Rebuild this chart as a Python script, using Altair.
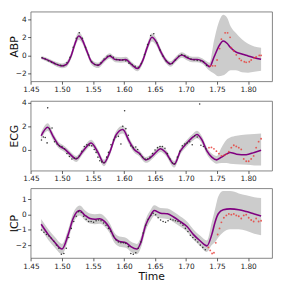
import altair as alt
import pandas as pd

# ---------------- shared axis data ----------------
x_domain = [1.4494, 1.8386]
x_ticks = [1.45, 1.50, 1.55, 1.60, 1.65, 1.70, 1.75, 1.80]

# ---------------- ABP ----------------
abp_t = [1.467, 1.480, 1.490, 1.500, 1.507, 1.515, 1.521, 1.527, 1.533, 1.540, 1.548, 1.558,
         1.568, 1.577, 1.586, 1.595, 1.603, 1.612, 1.622, 1.630, 1.638, 1.645, 1.652, 1.660,
         1.668, 1.675, 1.684, 1.693, 1.702, 1.710, 1.718, 1.726, 1.733, 1.738, 1.745, 1.752,
         1.760, 1.766, 1.772, 1.780, 1.790, 1.800, 1.810, 1.821]
abp_mean = [-0.24, -0.60, -0.95, -1.15, -1.00, 0.00, 1.30, 2.15, 1.70, 0.50, -0.75, -1.10,
            -0.50, -0.05, -0.45, -0.50, -0.45, -1.00, -1.45, -0.60, 1.00, 2.00, 1.50, 0.30,
            -0.60, -0.95, -0.40, 0.05, -0.25, -0.45, -0.45, -0.62, -1.00, -1.25, -0.20, 0.90,
            1.60, 1.35, 0.85, 0.40, 0.15, -0.05, -0.25, -0.42]
abp_lo = [-0.42, -0.82, -1.20, -1.42, -1.30, -0.35, 0.90, 1.70, 1.30, 0.15, -1.05, -1.40,
          -0.80, -0.35, -0.75, -0.80, -0.75, -1.30, -1.75, -0.95, 0.60, 1.55, 1.10, -0.05,
          -0.90, -1.25, -0.70, -0.25, -0.55, -0.75, -0.75, -0.92, -1.35, -1.70, -2.00, -2.30,
          -2.20, -1.90, -1.65, -1.65, -1.85, -1.90, -1.80, -1.70]
abp_hi = [-0.06, -0.38, -0.70, -0.88, -0.70, 0.35, 1.70, 2.60, 2.10, 0.85, -0.45, -0.80,
          -0.20, 0.25, -0.15, -0.20, -0.15, -0.70, -1.15, -0.25, 1.40, 2.45, 1.90, 0.65,
          -0.30, -0.65, -0.10, 0.35, 0.05, -0.15, -0.15, -0.32, -0.65, -0.80, 1.60, 3.50,
          4.50, 4.20, 3.20, 2.50, 1.80, 1.30, 1.00, 0.85]
abp_train_t = [1.468, 1.473, 1.478, 1.483, 1.488, 1.493, 1.498, 1.503, 1.508, 1.513, 1.518,
               1.523, 1.528, 1.533, 1.538, 1.543, 1.548, 1.553, 1.558, 1.563, 1.568, 1.573,
               1.578, 1.583, 1.588, 1.593, 1.598, 1.603, 1.608, 1.613, 1.618, 1.623, 1.628,
               1.633, 1.638, 1.643, 1.648, 1.653, 1.658, 1.663, 1.668, 1.673, 1.678, 1.683,
               1.688, 1.693, 1.698, 1.703, 1.708, 1.713, 1.718, 1.723, 1.728, 1.733]
abp_train_v = [-0.25, -0.40, -0.60, -0.75, -0.90, -1.00, -1.10, -1.15, -0.80, -0.20, 0.90,
               1.90, 2.50, 1.90, 0.90, 0.05, -0.70, -1.00, -1.05, -0.80, -0.40, -0.10,
               0.00, -0.20, -0.45, -0.50, -0.50, -0.60, -0.85, -1.00, -1.20, -1.30, -0.90,
               0.10, 1.20, 2.20, 2.40, 1.40, 0.60, -0.10, -0.60, -0.90, -0.90, -0.50,
               -0.10, 0.10, 0.00, -0.20, -0.40, -0.50, -0.55, -0.60, -0.70, -1.10]
abp_test_t = [1.739, 1.743, 1.747, 1.750, 1.754, 1.757, 1.763, 1.767, 1.771, 1.773, 1.777,
              1.781, 1.786, 1.789, 1.794, 1.797, 1.802, 1.805, 1.810, 1.813, 1.818, 1.821]
abp_test_v = [-1.15, -1.15, -1.15, -0.50, 0.76, 1.80, 2.50, 2.50, 2.00, 0.87, 0.50,
              0.07, -0.35, -0.55, -0.70, -0.76, -0.70, -0.50, -0.28, -0.17, 0.00, 0.00]

# ---------------- ECG ----------------
ecg_t = [1.4665, 1.477, 1.486, 1.494, 1.505, 1.513, 1.523, 1.534, 1.547, 1.558, 1.5676, 1.577,
         1.587, 1.598, 1.6085, 1.6165, 1.6245, 1.635, 1.640, 1.6485, 1.659, 1.667, 1.681, 1.691,
         1.7015, 1.712, 1.7176, 1.7256, 1.7336, 1.7415, 1.7495, 1.757, 1.765, 1.771, 1.7814,
         1.797, 1.810, 1.821]
ecg_mean = [1.20, 1.92, 1.12, 0.45, 0.05, -0.35, -0.75, -0.08, 0.59, -0.20, -1.09, -0.20,
            1.25, 1.73, 0.72, 0.05, -0.27, -0.83, -0.75, -0.35, 0.10, -0.20, -1.20, -0.08,
            0.59, 1.12, 1.30, 0.85, -0.08, -0.60, -0.83, -0.60, -0.35, -0.21, -0.35,
            -0.40, -0.20, -0.03]
ecg_lo = [0.90, 1.60, 0.82, 0.18, -0.20, -0.60, -1.00, -0.33, 0.32, -0.47, -1.37, -0.47,
          0.95, 1.40, 0.43, -0.22, -0.53, -1.08, -1.00, -0.60, -0.16, -0.46, -1.48, -0.35,
          0.31, 0.82, 0.98, 0.55, -0.38, -0.90, -1.15, -1.10, -1.10, -1.15, -1.20,
          -1.25, -1.30, -1.30]
ecg_hi = [1.50, 2.25, 1.42, 0.72, 0.30, -0.10, -0.50, 0.17, 0.86, 0.07, -0.81, 0.07,
          1.55, 2.06, 1.01, 0.32, -0.01, -0.58, -0.50, -0.10, 0.36, 0.06, -0.92, 0.19,
          0.87, 1.42, 1.62, 1.15, 0.22, -0.30, -0.50, 0.20, 0.85, 1.05, 1.20,
          1.30, 1.35, 1.40]
ecg_train_t = [1.467, 1.470, 1.473, 1.476, 1.477, 1.480, 1.484, 1.488, 1.492, 1.496, 1.500,
               1.504, 1.508, 1.512, 1.516, 1.520, 1.524, 1.528, 1.532, 1.536, 1.540, 1.544,
               1.548, 1.552, 1.555, 1.558, 1.561, 1.564, 1.568, 1.572, 1.575, 1.579, 1.583,
               1.587, 1.591, 1.595, 1.598, 1.601, 1.603, 1.607, 1.611, 1.615, 1.619, 1.622,
               1.626, 1.630, 1.634, 1.638, 1.642, 1.646, 1.650, 1.654, 1.658, 1.662, 1.666,
               1.670, 1.674, 1.678, 1.682, 1.686, 1.690, 1.694, 1.698, 1.702, 1.706, 1.710,
               1.714, 1.718, 1.722, 1.724, 1.728, 1.732]
ecg_train_v = [0.85, 1.10, 1.05, 0.60, 3.55, 1.80, 1.85, 0.70, 0.50, 0.35, 0.30,
               0.10, -0.30, -0.55, -0.75, -0.70, -0.70, -0.50, -0.10, 0.30, 0.45, 0.40,
               0.35, 0.05, -0.20, -0.60, -0.90, -1.00, -1.05, -0.60, -0.20, 0.45, 0.85,
               1.10, 1.15, 0.50, 2.00, 3.30, 1.80, 1.25, 0.35, 0.20, 0.25, 0.05,
               -0.35, -0.60, -0.75, -0.75, -0.60, -0.30, 0.00, 0.20, 0.30, 0.30, 0.15,
               -0.30, -0.75, -1.10, -1.15, -0.60, -0.10, 0.35, 0.50, 0.60, 0.70, 0.45,
               1.20, 1.10, 3.87, 0.40, 0.30, 0.10]
ecg_test_t = [1.737, 1.741, 1.745, 1.749, 1.753, 1.757, 1.761, 1.765, 1.769, 1.773, 1.777,
              1.781, 1.785, 1.789, 1.793, 1.797, 1.801, 1.805, 1.809, 1.813, 1.817, 1.821]
ecg_test_v = [0.20, 0.22, 0.10, -0.10, -0.30, -0.50, -0.45, -0.35, -0.15, 0.20, 0.40,
              0.30, 0.20, 0.05, -0.75, -0.95, -0.95, -0.75, -0.50, 0.20, 0.70, 0.95]

# ---------------- ICP ----------------
icp_t = [1.4665, 1.478, 1.489, 1.500, 1.510, 1.518, 1.5287, 1.537, 1.545, 1.553, 1.561, 1.569,
         1.577, 1.5846, 1.5926, 1.603, 1.611, 1.6208, 1.627, 1.635, 1.643, 1.6485, 1.659, 1.670,
         1.680, 1.691, 1.7015, 1.712, 1.723, 1.7336, 1.7415, 1.747, 1.752, 1.760, 1.771, 1.785,
         1.797, 1.810, 1.821]
icp_mean = [-0.63, -1.31, -1.84, -2.26, -1.31, -0.25, 0.27, -0.04, -0.25, -0.30, -0.27, -0.46,
            -0.89, -1.52, -1.77, -1.84, -2.10, -2.26, -1.84, -0.68, -0.04, 0.27, 0.10, 0.06,
            -0.15, -0.46, -0.78, -1.31, -1.73, -2.05, -1.31, -0.46, 0.06, 0.32, 0.38, 0.33,
            0.21, 0.05, -0.08]
icp_lo = [-0.98, -1.66, -2.19, -2.60, -1.66, -0.60, -0.06, -0.37, -0.58, -0.63, -0.60, -0.79,
          -1.22, -1.85, -2.10, -2.17, -2.43, -2.60, -2.20, -1.05, -0.40, -0.08, -0.24, -0.28,
          -0.49, -0.80, -1.12, -1.65, -2.07, -2.45, -2.00, -1.80, -1.50, -1.15, -0.95, -0.95,
          -1.05, -1.25, -1.35]
icp_hi = [-0.28, -0.96, -1.49, -1.92, -0.96, 0.10, 0.60, 0.29, 0.08, 0.03, 0.06, -0.13,
          -0.56, -1.19, -1.44, -1.51, -1.77, -1.92, -1.48, -0.31, 0.32, 0.62, 0.44, 0.40,
          0.19, -0.12, -0.44, -0.97, -1.39, -1.70, -0.50, 0.40, 1.20, 1.55, 1.55, 1.40,
          1.28, 1.15, 1.10]
icp_train_t = [1.467, 1.471, 1.475, 1.479, 1.483, 1.487, 1.491, 1.495, 1.499, 1.503, 1.507,
               1.511, 1.515, 1.519, 1.523, 1.527, 1.531, 1.535, 1.539, 1.543, 1.547, 1.551,
               1.555, 1.559, 1.563, 1.567, 1.571, 1.575, 1.579, 1.583, 1.587, 1.591, 1.595,
               1.599, 1.603, 1.607, 1.611, 1.615, 1.619, 1.623, 1.627, 1.631, 1.635, 1.639,
               1.643, 1.647, 1.651, 1.655, 1.659, 1.663, 1.667, 1.671, 1.675, 1.679, 1.683,
               1.687, 1.691, 1.695, 1.699, 1.703, 1.707, 1.711, 1.715, 1.719, 1.723, 1.727,
               1.731]
icp_train_v = [-1.00, -1.15, -1.30, -1.40, -1.55, -1.75, -2.00, -2.20, -2.60, -2.55, -2.20,
               -1.50, -0.90, -0.45, -0.10, 0.20, 0.15, -0.10, -0.30, -0.45, -0.45, -0.50,
               -0.40, -0.35, -0.40, -0.55, -0.70, -0.90, -1.10, -1.40, -1.65, -1.80, -1.85,
               -1.85, -1.90, -2.10, -2.55, -2.60, -2.50, -2.20, -1.80, -1.20, -0.70, -0.30,
               -0.05, 0.10, 0.00, -0.20, -0.35, -0.45, -0.50, -0.40, -0.30, -0.35, -0.40,
               -0.45, -0.55, -0.70, -0.90, -1.10, -1.35, -1.50, -1.65, -1.80, -2.00, -2.15,
               -2.30]
icp_test_t = [1.736, 1.739, 1.742, 1.745, 1.748, 1.751, 1.754, 1.757, 1.761, 1.765, 1.769,
              1.773, 1.777, 1.781, 1.785, 1.789, 1.793, 1.797, 1.801, 1.805, 1.809, 1.813,
              1.817, 1.821]
icp_test_v = [-2.15, -2.35, -2.55, -2.50, -1.85, -1.30, -0.90, -0.50, -0.20, -0.05, 0.05,
              0.00, 0.05, -0.05, -0.10, -0.25, -0.05, 0.00, -0.20, -0.35, -0.45, -0.25,
              -0.45, -0.40]

panel_names = ["ABP", "ECG", "ICP"]
y_domains = [[-2.85, 4.85], [-1.73, 4.14], [-2.84, 1.74]]
y_ticks = [[-2, 0, 2, 4], [0, 2, 4], [-2, -1, 0, 1]]

PANEL_W = 246
PANEL_H = 71
MINUS = "replace(datum.label, '-', '\u2212')"


def panel(name, ct, cm, clo, chi, trt, trv, tet, tev, ydom, yt, last):
    curve = pd.DataFrame({"t": ct, "m": cm, "lo": clo, "hi": chi})
    train = pd.DataFrame({"t": trt, "v": trv})
    test = pd.DataFrame({"t": tet, "v": tev})

    xaxis = alt.Axis(values=x_ticks, format=".2f", labelFlush=False,
                     title="Time" if last else None, titlePadding=1)
    xenc = alt.X("t:Q", scale=alt.Scale(domain=x_domain, nice=False, zero=False), axis=xaxis)
    yscale = alt.Scale(domain=ydom, nice=False, zero=False)
    yaxis = alt.Axis(values=yt, title=name, labelExpr=MINUS, labelFlush=False,
                     minExtent=10, maxExtent=10, titlePadding=1)

    band = alt.Chart(curve).mark_area(color="#cccccc", interpolate="monotone").encode(
        x=xenc, y=alt.Y("lo:Q", scale=yscale, axis=yaxis), y2="hi:Q")
    line = alt.Chart(curve).mark_line(color="#800080", strokeWidth=1.6,
                                       interpolate="monotone").encode(
        x=xenc, y=alt.Y("m:Q", scale=yscale, axis=yaxis))
    pts = alt.Chart(train).mark_circle(color="#333333", size=2.5, opacity=1).encode(
        x=xenc, y=alt.Y("v:Q", scale=yscale, axis=yaxis))
    red = alt.Chart(test).mark_circle(color="#e8413c", size=3.5, opacity=0.85).encode(
        x=xenc, y=alt.Y("v:Q", scale=yscale, axis=yaxis))
    return alt.layer(band, line, pts, red).properties(width=PANEL_W, height=PANEL_H)


p1 = panel("ABP", abp_t, abp_mean, abp_lo, abp_hi, abp_train_t, abp_train_v,
           abp_test_t, abp_test_v, y_domains[0], y_ticks[0], False)
p2 = panel("ECG", ecg_t, ecg_mean, ecg_lo, ecg_hi, ecg_train_t, ecg_train_v,
           ecg_test_t, ecg_test_v, y_domains[1], y_ticks[1], False)
p3 = panel("ICP", icp_t, icp_mean, icp_lo, icp_hi, icp_train_t, icp_train_v,
           icp_test_t, icp_test_v, y_domains[2], y_ticks[2], True)

chart = alt.vconcat(p1, p2, p3, spacing=4).properties(padding=0).configure_view(
    stroke="#777777", strokeWidth=0.9
).configure_axis(
    grid=False, domain=False, tickColor="#333333", tickSize=3, tickWidth=0.8,
    labelFontSize=7.5, labelColor="#222222", labelFont="DejaVu Sans", labelPadding=1.5,
    titleFont="DejaVu Sans", titleFontSize=11, titleFontWeight="normal", titleColor="#111111"
)

chart.save("out.html", embed_options={"renderer": "svg", "actions": False})
